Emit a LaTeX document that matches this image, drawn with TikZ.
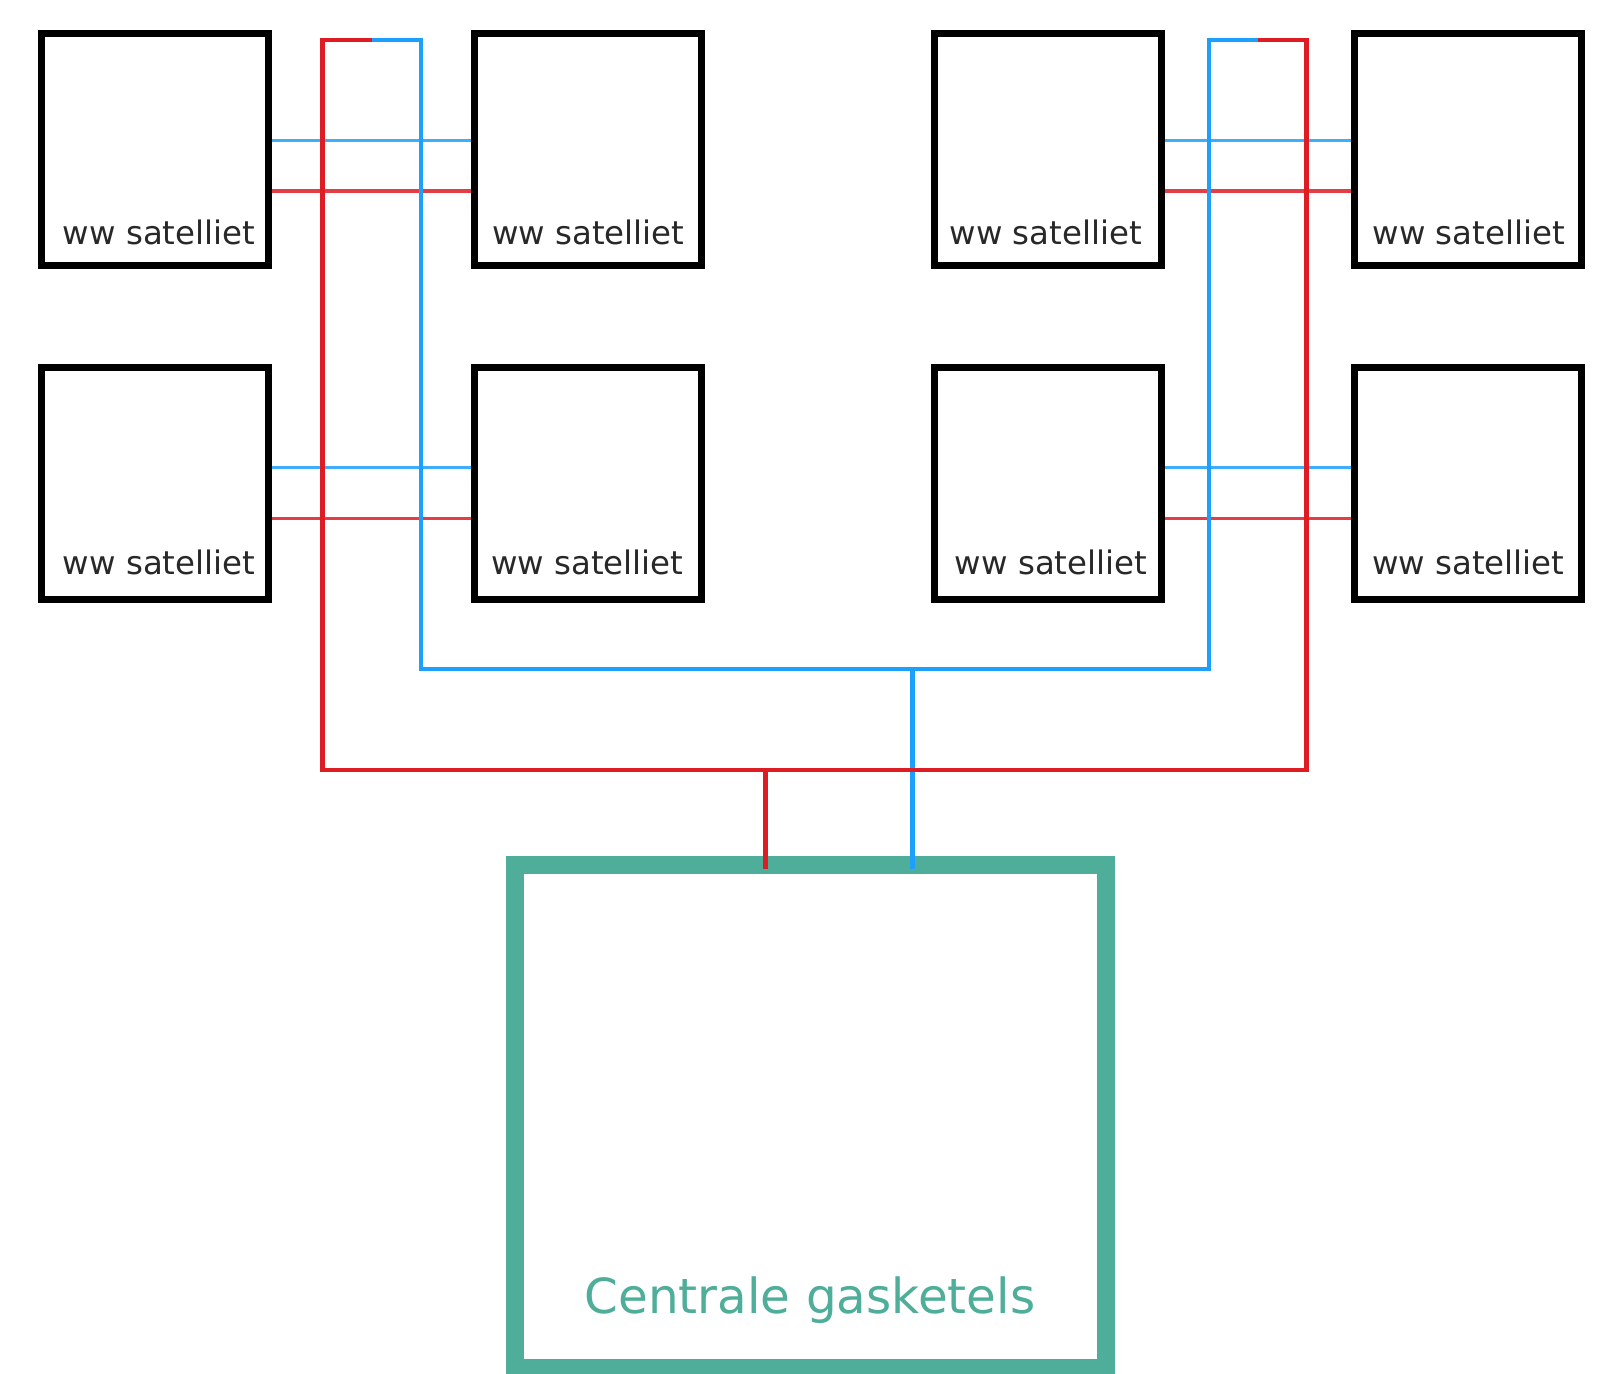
\documentclass[tikz,border=0pt]{standalone}
\usepackage{fontspec}
\setmainfont{DejaVu Sans}
\definecolor{hotred}{RGB}{222,28,36}
\definecolor{coldblue}{RGB}{28,160,252}
\definecolor{gasgreen}{RGB}{78,174,153}
\definecolor{txtgray}{RGB}{40,40,40}
\tikzset{
  satbox/.style={draw=black, line width=3.5pt, minimum width=113.5pt, minimum height=116pt, inner sep=0pt, outer sep=0pt},
  sattext/.style={anchor=base, text=txtgray, font=\fontsize{16.2pt}{19pt}\selectfont, inner sep=0pt},
  ketelbox/.style={draw=gasgreen, line width=9pt, minimum width=295.4pt, minimum height=251.75pt, inner sep=0pt, outer sep=0pt},
  keteltext/.style={anchor=base, text=gasgreen, font=\fontsize{24.2pt}{29pt}\selectfont, inner sep=0pt},
  redtrunk/.style={draw=hotred, line width=2.3pt, line join=miter},
  bluetrunk/.style={draw=coldblue, line width=2.3pt, line join=miter},
  redbranch/.style={draw=hotred!85, line width=1.6pt},
  bluebranch/.style={draw=coldblue!85, line width=1.8pt},
}
\begin{document}
\begin{tikzpicture}[x=0.5pt, y=-0.5pt]
\fill[white] (0,0) rectangle (1597,1374);
\useasboundingbox (0,0) rectangle (1597,1374);

% coordinates of the trunks
\coordinate (rl) at (322.7,770);
\coordinate (rlt) at (322.7,40);
\coordinate (ml) at (372,40);
\coordinate (blt) at (421,40);
\coordinate (bl) at (421,669);
\coordinate (br) at (1209,669);
\coordinate (brt) at (1209,40);
\coordinate (mr) at (1257.7,40);
\coordinate (rrt) at (1306.7,40);
\coordinate (rr) at (1306.7,770);
\coordinate (rdrop) at (765.7,770);
\coordinate (bdrop) at (912.3,669);

% central boiler
\node[ketelbox] (ketel) at (810.4,1116.25) {};
\node[keteltext] (keteltxt) at (810,1313.3) {Centrale gasketels};

% satellite boxes
\path (154.5,150) node[satbox] (b1) {}
      (588,150) node[satbox] (b2) {}
      (1047.75,150) node[satbox] (b3) {}
      (1468.4,150) node[satbox] (b4) {}
      (154.5,484) node[satbox] (b5) {}
      (588,484) node[satbox] (b6) {}
      (1047.75,484) node[satbox] (b7) {}
      (1468.4,484) node[satbox] (b8) {};

% branches
\draw[bluebranch] (b1.east |- 0,140.7) -- (b2.west |- 0,140.7);
\draw[redbranch] (b1.east |- 0,191) -- (b2.west |- 0,191);
\draw[bluebranch] (b3.east |- 0,140.7) -- (b4.west |- 0,140.7);
\draw[redbranch] (b3.east |- 0,191) -- (b4.west |- 0,191);
\draw[bluebranch] (b5.east |- 0,467.7) -- (b6.west |- 0,467.7);
\draw[redbranch] (b5.east |- 0,518.3) -- (b6.west |- 0,518.3);
\draw[bluebranch] (b7.east |- 0,467.7) -- (b8.west |- 0,467.7);
\draw[redbranch] (b7.east |- 0,518.3) -- (b8.west |- 0,518.3);

% trunks
\draw[bluetrunk] (ml) -- (blt) -- (bl) -- (br) -- (brt) -- (mr);
\draw[bluetrunk] (bdrop) -- ([yshift=-2.25pt]ketel.north -| bdrop);
\draw[redtrunk] (ml) -- (rlt) -- (rl) -- (rr) -- (rrt) -- (mr);
\draw[redtrunk] (rdrop) -- ([yshift=-2.25pt]ketel.north -| rdrop);

% satellite box borders on top
\foreach \n in {b1,b2,b3,b4,b5,b6,b7,b8}{
  \draw[line width=3.5pt] (\n.south west) rectangle (\n.north east);
}

% labels
\node[sattext] (t1) at (159,245) {ww satelliet};
\node[sattext] (t2) at (588.25,245) {ww satelliet};
\node[sattext] (t3) at (1045.75,245) {ww satelliet};
\node[sattext] (t4) at (1468.75,245) {ww satelliet};
\node[sattext] (t5) at (159,574.3) {ww satelliet};
\node[sattext] (t6) at (587.25,574.3) {ww satelliet};
\node[sattext] (t7) at (1051,574.3) {ww satelliet};
\node[sattext] (t8) at (1468.25,574.3) {ww satelliet};
\end{tikzpicture}
\end{document}
